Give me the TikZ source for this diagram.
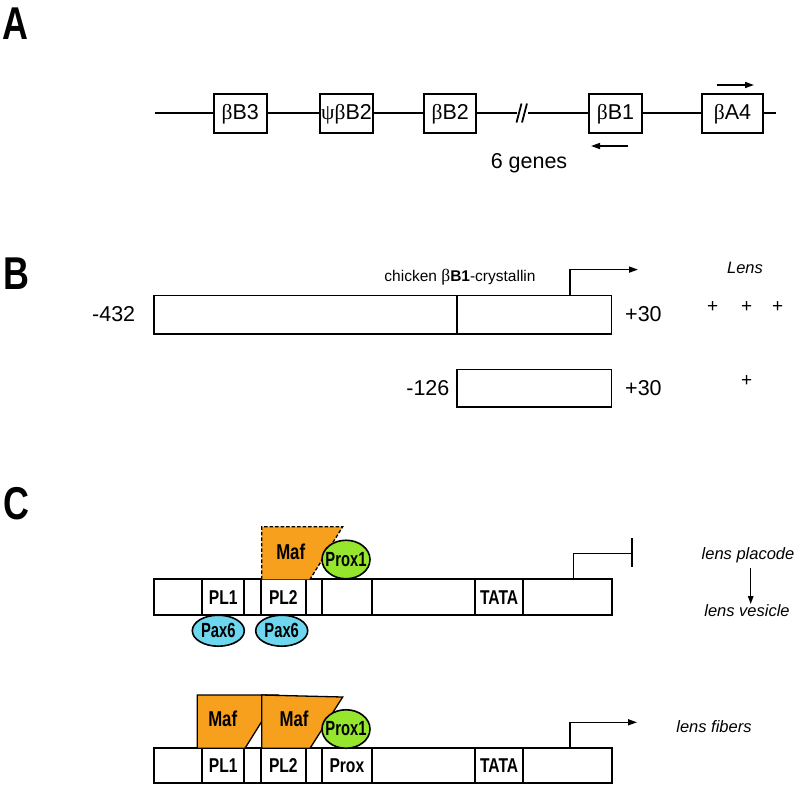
\documentclass[tikz,border=0pt]{standalone}
\usepackage{fontspec}
\setmainfont{Liberation Sans}
\newfontfamily\condf[FakeStretch=0.78]{Liberation Sans}
\newfontfamily\condn[FakeStretch=0.72]{Liberation Sans}
\newfontfamily\grk{Liberation Serif}
\usetikzlibrary{arrows.meta,shapes.geometric}
\definecolor{maforange}{RGB}{247,160,30}
\definecolor{proxgreen}{RGB}{150,230,45}
\definecolor{paxcyan}{RGB}{110,215,240}
\begin{document}
\begin{tikzpicture}[x=1pt,y=-1pt,
  gene/.style={draw, line width=1.9pt, minimum height=39pt, inner sep=0pt, font=\fontsize{21.5}{25}\selectfont},
  seg/.style={draw, line width=1.7pt, inner sep=0pt},
  cell/.style={draw, line width=1.8pt, inner sep=0pt, font=\condf\bfseries\fontsize{20}{23}\selectfont},
  lbl/.style={inner sep=0pt, font=\fontsize{21.5}{25}\selectfont},
  small/.style={inner sep=0pt, font=\fontsize{15.5}{18}\selectfont},
  itl/.style={inner sep=0pt, font=\itshape\fontsize{16.5}{19}\selectfont},
  panel/.style={inner sep=0pt, font=\condf\bfseries\fontsize{46}{50}\selectfont},
  tf/.style={inner sep=0pt, font=\condf\bfseries\fontsize{21.5}{24}\selectfont},
  tfs/.style={inner sep=0pt, font=\condn\bfseries\fontsize{20.5}{23}\selectfont},
  mafshape/.style={fill=maforange, draw=black, line width=1.3pt, line join=miter},
  prox/.style={ellipse, draw, fill=proxgreen, line width=1.6pt, minimum width=48pt, minimum height=38.5pt, inner sep=0pt},
  pax/.style={ellipse, draw, fill=paxcyan, line width=1.6pt, minimum width=52pt, minimum height=31pt, inner sep=0pt},
  wire/.style={line width=1.9pt},
  thinarrow/.style={line width=1.6pt, -{Triangle[length=9pt,width=6pt]}},
]
\useasboundingbox (0,0) rectangle (800,788);

% ---------- Panel letters ----------
\node[panel] (pA) at (15.8,23.3) {A};
\node[panel] (pB) at (16.3,273.3) {B};
\node[panel] (pC) at (16,504) {C};

% ---------- Panel A ----------
\node[gene, minimum width=52.7pt] (b3) at (240.3,113.8) {{\grk β}B3};
\node[gene, minimum width=52.4pt] (p2) at (346.5,113.8) {{\grk ψβ}B2};
\node[gene, minimum width=51.7pt] (b2) at (450.2,113.8) {{\grk β}B2};
\node[gene, minimum width=52.4pt] (b1) at (615.5,113.8) {{\grk β}B1};
\node[gene, minimum width=60.4pt] (a4) at (732.5,113.8) {{\grk β}A4};
\coordinate (lstart) at (155,113.3);
\coordinate (lend) at (776,113.3);
\coordinate (brk1) at (516.7,113.3);
\coordinate (brk2) at (528,113.3);
\draw[wire] (lstart) -- (b3.west |- lstart);
\draw[wire] (b3.east |- lstart) -- (p2.west |- lstart);
\draw[wire] (p2.east |- lstart) -- (b2.west |- lstart);
\draw[wire] (b2.east |- lstart) -- (brk1);
\draw[wire] (brk2) -- (b1.west |- lstart);
\draw[wire] (b1.east |- lstart) -- (a4.west |- lstart);
\draw[wire] (a4.east |- lstart) -- (lend);
\draw[line width=1.8pt] (516.5,122.5) -- (521.5,103.5);
\draw[line width=1.8pt] (522,122.5) -- (527,103.5);
\coordinate (a4s) at (716.7,85);
\coordinate (a4e) at (754,85);
\draw[thinarrow] (a4s) -- (a4e);
\coordinate (b1s) at (628,146);
\coordinate (b1e) at (591,146);
\draw[thinarrow] (b1s) -- (b1e);
\node[lbl] (six) at (529,163) {6 genes};

% ---------- Panel B ----------
\node[seg, minimum width=302.5pt, minimum height=38.6pt] (bL) at (305.55,314.7) {};
\node[seg, minimum width=154.6pt, minimum height=38.6pt] (bR) at (534.1,314.7) {};
\node[seg, minimum width=154.6pt, minimum height=37.4pt] (sB) at (534.1,388.3) {};
\node[small] (chick) at (460,277) {chicken {\grk\fontsize{17.5}{20}\selectfont β}\textbf{B1}-crystallin};
\coordinate (pbtip) at (638,269.6);
\draw[thinarrow] (570,295.4) |- (pbtip);
\node[lbl, anchor=east] (m432) at (135.4,314.5) {-432};
\node[lbl, anchor=east] (m126) at (449.6,388.3) {-126};
\node[lbl, anchor=west] (p30a) at (625,314.5) {+30};
\node[lbl, anchor=west] (p30b) at (625,388.3) {+30};
\node[inner sep=0pt, font=\itshape\fontsize{16.5}{18}\selectfont] (lens) at (745,268) {Lens};
\node[inner sep=0pt, font=\fontsize{19}{20}\selectfont] (pl1) at (712.7,307) {+};
\node[inner sep=0pt, font=\fontsize{19}{20}\selectfont] (pl2) at (746.7,307) {+};
\node[inner sep=0pt, font=\fontsize{19}{20}\selectfont] (pl3) at (777.7,307) {+};
\node[inner sep=0pt, font=\fontsize{19}{20}\selectfont] (pl4) at (746.7,381) {+};

% ---------- Panel C, row 1 ----------
\foreach \i/\xa/\xb/\lab in {1/154.3/202.3/{},2/202.3/244.3/PL1,3/244.3/260.7/{},4/260.7/306/PL2,5/306/322/{},6/322/371.7/{},7/371.7/475/{},8/475/523.3/TATA,9/523.3/611.7/{}}{
  \pgfmathsetmacro\w{\xb-\xa}
  \pgfmathsetmacro\c{(\xa+\xb)/2}
  \node[cell, minimum width=\w pt, minimum height=35.7pt] (ra\i) at (\c,597.15) {\lab};
}
\draw[mafshape, dash pattern=on 3.5pt off 2pt] (261.7,579.3) -- (261.7,526.7) -- (342.7,526.7) -- (310,579.3);
\node[tf] (maf0) at (290.7,551.7) {Maf};
\node[prox] (px1) at (346,559.5) {};
\node[tfs] (px1t) at (px1) {Prox1};
\node[pax] (pax1) at (218.3,630.7) {};
\node[tfs] (pax1t) at (pax1) {Pax6};
\node[pax] (pax2) at (281.7,630.7) {};
\node[tfs] (pax2t) at (pax2) {Pax6};
\coordinate (rep) at (631.7,553.3);
\draw[line width=1.6pt] (573.3,579.3) |- (rep);
\draw[line width=1.8pt] (631.7,538.3) -- (631.7,567.3);
\node[itl] (lp) at (748,555) {lens placode};
\node[itl] (lv) at (747,611) {lens vesicle};
\coordinate (lpa) at (750.7,568);
\coordinate (lpb) at (750.7,604);
\draw[line width=1.3pt, -{Triangle[length=8pt,width=5.5pt]}] (lpa) -- (lpb);

% ---------- Panel C, row 2 ----------
\foreach \i/\xa/\xb/\lab in {1/154.3/202.3/{},2/202.3/244.3/PL1,3/244.3/260.7/{},4/260.7/306/PL2,5/306/322/{},6/322/371.7/Prox,7/371.7/475/{},8/475/523.3/TATA,9/523.3/611.7/{}}{
  \pgfmathsetmacro\w{\xb-\xa}
  \pgfmathsetmacro\c{(\xa+\xb)/2}
  \node[cell, minimum width=\w pt, minimum height=35pt] (rb\i) at (\c,765.8) {\lab};
}
\draw[mafshape] (197.3,748.3) -- (197.3,695) -- (278.3,695) -- (245,748.3) -- cycle;
\draw[mafshape] (261.7,748.3) -- (261.7,695) -- (342.7,697) -- (310,748.3) -- cycle;
\node[tf] (maf1) at (222.7,719.3) {Maf};
\node[tf] (maf2) at (294,719) {Maf};
\node[prox] (px2) at (346,729) {};
\node[tfs] (px2t) at (px2) {Prox1};
\coordinate (fbtip) at (637,722.3);
\draw[thinarrow] (570,748.3) |- (fbtip);
\node[itl] (lf) at (714,727) {lens fibers};
\end{tikzpicture}
\end{document}
